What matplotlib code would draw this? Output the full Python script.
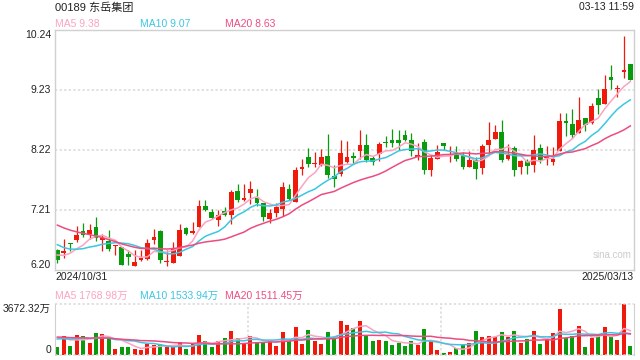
import numpy as np
import matplotlib
matplotlib.use('Agg')
from matplotlib import pyplot as plt

plt.rcParams['font.family'] = ['Liberation Sans', 'Noto Sans CJK SC', 'DejaVu Sans']

# 标题 / 时间
title = '00189 东岳集团'
stamp = '03-13 11:59'
start_date = '2024/10/31'
end_date = '2025/03/13'

# 日K 数据 (2024/10/31 - 2025/03/13)
open_ = [6.54, 6.49, 6.65, 6.71, 6.86, 6.81, 6.92, 6.71, 6.68, 6.60,
         6.58, 6.47, 6.27, 6.36, 6.38, 6.71, 6.86, 6.33, 6.32, 6.44,
         6.91, 6.82, 6.93, 7.28, 7.17, 7.05, 7.19, 7.13, 7.53, 7.37,
         7.49, 7.42, 7.33, 7.06, 7.16, 7.22, 7.56, 7.35, 7.90, 8.10,
         7.98, 7.96, 8.12, 7.79, 7.82, 8.02, 8.12, 8.21, 8.31, 8.08,
         8.16, 8.36, 8.39, 8.39, 8.47, 8.39, 8.11, 8.36, 7.88, 8.07,
         8.33, 8.14, 8.15, 8.14, 7.94, 8.05, 7.91, 8.30, 8.40, 8.52,
         8.07, 8.25, 7.94, 8.04, 7.97, 8.25, 8.09, 8.02, 8.20, 8.70,
         8.66, 8.51, 8.76, 8.68, 9.10, 9.00, 9.45, 9.25, 9.54, 9.66]
high = [6.55, 6.73, 6.66, 6.94, 6.99, 6.97, 7.09, 6.81, 6.87, 6.62,
        6.59, 6.54, 6.53, 6.54, 6.73, 6.89, 6.87, 6.54, 6.67, 6.97,
        6.92, 7.01, 7.38, 7.37, 7.23, 7.21, 7.26, 7.55, 7.65, 7.65,
        7.70, 7.57, 7.33, 7.23, 7.32, 7.68, 7.65, 7.93, 8.07, 8.25,
        8.19, 8.24, 8.49, 7.97, 8.39, 8.37, 8.18, 8.56, 8.49, 8.12,
        8.36, 8.46, 8.57, 8.55, 8.55, 8.50, 8.34, 8.41, 8.14, 8.30,
        8.33, 8.28, 8.28, 8.18, 8.21, 8.10, 8.32, 8.69, 8.64, 8.73,
        8.32, 8.29, 8.06, 8.07, 8.48, 8.32, 8.28, 8.27, 8.85, 8.84,
        8.91, 9.11, 8.76, 9.01, 9.25, 9.48, 9.65, 9.32, 10.14, 9.67]
low = [6.31, 6.41, 6.52, 6.67, 6.76, 6.73, 6.69, 6.52, 6.52, 6.46,
       6.28, 6.29, 6.26, 6.35, 6.37, 6.64, 6.32, 6.27, 6.32, 6.44,
       6.79, 6.81, 6.93, 7.20, 7.06, 6.94, 7.11, 6.97, 7.35, 7.36,
       7.31, 7.28, 7.03, 6.99, 7.10, 7.11, 7.37, 7.35, 7.80, 7.94,
       7.93, 7.95, 7.75, 7.59, 7.78, 8.00, 8.00, 8.07, 8.02, 7.96,
       8.03, 8.27, 8.27, 8.22, 8.37, 8.12, 8.06, 7.82, 7.79, 8.07,
       8.22, 8.01, 8.03, 7.90, 7.94, 7.73, 7.82, 8.17, 8.40, 8.01,
       8.06, 7.78, 7.82, 7.82, 7.85, 8.00, 7.96, 7.96, 8.20, 8.45,
       8.42, 8.50, 8.54, 8.65, 8.83, 9.00, 9.24, 9.12, 9.44, 9.39]
close = [6.36, 6.52, 6.63, 6.79, 6.79, 6.87, 6.74, 6.74, 6.55, 6.61,
         6.29, 6.42, 6.34, 6.41, 6.65, 6.75, 6.36, 6.34, 6.55, 6.87,
         6.81, 6.86, 7.28, 7.21, 7.08, 7.13, 7.13, 7.51, 7.37, 7.41,
         7.56, 7.32, 7.10, 7.16, 7.26, 7.59, 7.39, 7.89, 7.93, 7.98,
         8.00, 8.10, 7.80, 7.73, 8.17, 8.10, 8.09, 8.31, 8.05, 8.01,
         8.32, 8.34, 8.33, 8.33, 8.39, 8.20, 8.14, 7.88, 8.09, 8.18,
         8.29, 8.16, 8.07, 7.94, 8.06, 7.90, 8.29, 8.39, 8.52, 8.05,
         8.14, 7.89, 8.04, 7.95, 8.22, 8.06, 8.11, 8.07, 8.71, 8.68,
         8.48, 8.73, 8.64, 8.96, 8.97, 9.25, 9.40, 9.26, 9.56, 9.39]
# 成交量 (万)
volume = [559, 1386, 656, 1459, 1386, 900, 1605, 1532, 1216, 438,
          559, 559, 438, 365, 802, 730, 802, 559, 559, 948,
          413, 802, 1459, 973, 559, 973, 1216, 1751, 1216, 851,
          1386, 900, 900, 973, 656, 1629, 1094, 2043, 802, 1824,
          1021, 802, 1678, 1216, 2481, 2189, 1946, 2481, 1410, 973,
          1094, 1021, 730, 875, 656, 973, 730, 1897, 1021, 365,
          170, 243, 486, 802, 900, 1751, 1265, 1386, 1265, 1629,
          1265, 1702, 900, 1167, 1751, 827, 1167, 1556, 3283, 1216,
          1337, 2067, 584, 1216, 1459, 1994, 1386, 1046, 3672.32, 656]
# 区间之前的收盘/成交量 (只为让均线起点对上)
pre_close = [7.45, 7.40, 7.35, 7.30, 7.28, 7.25, 7.22, 7.30, 7.20, 7.10,
             7.00, 6.90, 6.80, 6.70, 6.60, 6.55, 6.45, 6.42, 6.48]
pre_volume = [1500, 1350, 1600, 1400, 1450, 1300, 1550, 1400, 1350, 1400,
              1100, 950, 1200, 1000, 1050, 1500, 1300, 1450, 1390]

price_ticks = [6.20, 7.21, 8.22, 9.23, 10.24]
vol_top = 3672.32
ma_days = [5, 10, 20]
ma_price_text = ['9.38', '9.07', '8.63']
ma_vol_text = ['1768.98万', '1533.94万', '1511.45万']

RED = '#f01a0c'
GREEN = '#0a9a0e'
MA_COLORS = ['#fba3c2', '#3cc6e2', '#ec4c82']
GRID = '#d8d8d8'
TXT = '#222222'


def moving_avg(pre, vals, n):
    s = np.concatenate([pre, vals])
    out = np.convolve(s, np.ones(n) / n, mode='valid')
    return out[-len(vals):]


o = np.array(open_)
h = np.array(high)
l = np.array(low)
c = np.array(close)
v = np.array(volume)
x = np.arange(len(c))
up = c >= o
colors = np.where(up, RED, GREEN)

fig = plt.figure(figsize=(6.4, 3.6), dpi=100)
ax = fig.add_axes([55 / 640, 90 / 360, 579 / 640, 240 / 360])
axv = fig.add_axes([55 / 640, 5 / 360, 579 / 640, 51 / 360])

# K线
ax.vlines(x, l, h, colors=colors, linewidth=0.9)
body = np.maximum(np.abs(c - o), 0.015)
ax.bar(x, body, bottom=np.minimum(o, c), width=0.74, color=colors, linewidth=0)
for n, col in zip(ma_days, MA_COLORS):
    ax.plot(x, moving_avg(pre_close, c, n), color=col, linewidth=1.1)

xlim = (-0.36, len(c) - 1 + 0.57)
ax.set_xlim(*xlim)
ax.set_ylim(price_ticks[0], price_ticks[-1])
for t in price_ticks[1:-1]:
    ax.axhline(t, color=GRID, linewidth=1.1, linestyle=(0, (1.5, 1.5)), zorder=0)
ax.set_xticks([])
ax.set_yticks([])
for s in ax.spines.values():
    s.set_color('#d0d0d0')
    s.set_linewidth(1)
for i, t in enumerate(price_ticks):
    va = 'top' if i == len(price_ticks) - 1 else ('bottom' if i == 0 else 'center')
    ax.text(-4 / 579, t, '%.2f' % t, transform=ax.get_yaxis_transform(),
            ha='right', va=va, fontsize=7.5, color=TXT)
ax.text(0.995, 0.0625, 'sina.com', transform=ax.transAxes, ha='right', va='center',
        fontsize=7, color='#cccccc')

# 成交量
axv.bar(x, v, width=0.62, color=colors, linewidth=0)
for n, col in zip(ma_days, MA_COLORS):
    axv.plot(x, moving_avg(pre_volume, v, n), color=col, linewidth=1.1)
axv.set_xlim(*xlim)
axv.set_ylim(0, vol_top)
axv.set_xticks([])
axv.set_yticks([])
for side in ['left', 'right']:
    axv.spines[side].set_color('#d0d0d0')
axv.spines['top'].set_visible(False)
axv.spines['bottom'].set_visible(False)
axv.axhline(vol_top, color=GRID, linewidth=1.1, linestyle=(0, (1.5, 1.5)), clip_on=False)
axv.axhline(0, color=GRID, linewidth=1.1, linestyle=(0, (1.5, 1.5)), clip_on=False)
for k in (1, 2):
    axv.axvline(xlim[0] + (xlim[1] - xlim[0]) * k / 3, color=GRID, linewidth=1.1,
                linestyle=(0, (1.5, 1.5)), zorder=0)
axv.text(-4 / 579, vol_top, '%.2f万' % vol_top, transform=axv.get_yaxis_transform(),
         ha='right', va='top', fontsize=7.5, color=TXT)
axv.text(-4 / 579, 0, '0', transform=axv.get_yaxis_transform(),
         ha='right', va='bottom', fontsize=7.5, color=TXT)

# 文字
fig.text(55 / 640, 1 - 8 / 360, title, ha='left', va='center', fontsize=8, color=TXT)
fig.text(634 / 640, 1 - 7.5 / 360, stamp, ha='right', va='center', fontsize=7.5, color=TXT)
label_x = [55, 140, 225]
for n, col, px, tp, tv in zip(ma_days, MA_COLORS, label_x, ma_price_text, ma_vol_text):
    fig.text(px / 640, 1 - 24 / 360, 'MA%d %s' % (n, tp), ha='left', va='center',
             fontsize=7.5, color=col)
    fig.text(px / 640, 1 - 295.5 / 360, 'MA%d %s' % (n, tv), ha='left', va='center',
             fontsize=7.5, color=col)
fig.text(55 / 640, 1 - 277.5 / 360, start_date, ha='left', va='center', fontsize=7.5, color=TXT)
fig.text(634 / 640, 1 - 277.5 / 360, end_date, ha='right', va='center', fontsize=7.5, color=TXT)

fig.savefig('out.png', dpi=100)
